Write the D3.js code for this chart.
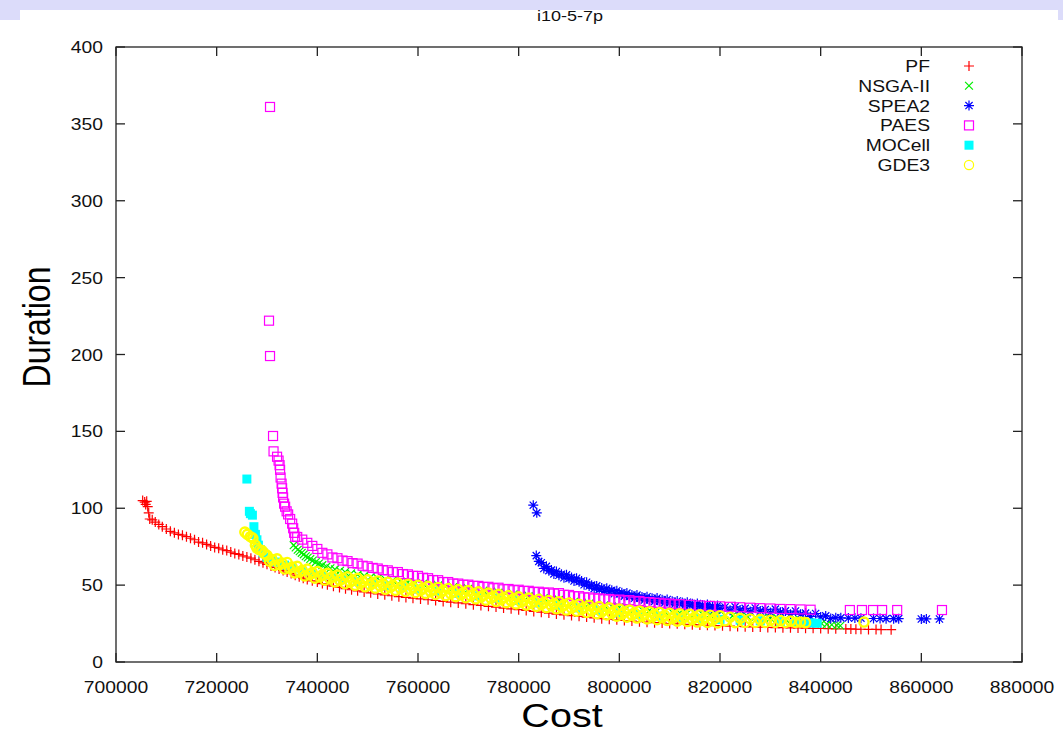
<!DOCTYPE html>
<html>
<head>
<meta charset="utf-8">
<script src="https://cdn.jsdelivr.net/npm/d3@7"></script>
<style>
  body { margin: 0; background: #ffffff; }
  svg { display: block; }
</style>
</head>
<body>
<svg id="chart" width="1063" height="734"></svg>
<script>
// ---- chart text and axis ticks ----
const chartTitle = "i10-5-7p";
const xLabel = "Cost";
const yLabel = "Duration";
const xTickValues = [700000, 720000, 740000, 760000, 780000, 800000, 820000, 840000, 860000, 880000];
const yTickValues = [0, 50, 100, 150, 200, 250, 300, 350, 400];

// ---- series (cost, duration) ----
const seriesNames = ["PF", "NSGA-II", "SPEA2", "PAES", "MOCell", "GDE3"];
const seriesColors = ["#ff0000", "#00ee00", "#0000ff", "#ff00ff", "#00ffff", "#ffff00"];
const seriesMarkers = ["plus", "cross", "star", "square", "filledSquare", "circle"];

const pfPoints = [
  [705300,105],[705700,104],[706100,104.5],[705900,102.5],[706300,101],[706500,97],[706700,93],[707200,92.5],
  [707800,91],[708500,89.5],[709200,88],[710000,86.5],[710800,85],[711600,84],[712400,83],[713200,82.5],
  [714000,81.5],[714800,80.5],[715600,79.5],[716400,78],[717200,77.5],[718000,76.5],[718800,75.5],[719600,74.5],
  [720400,74],[721200,73],[722000,72.5],[722800,71.5],[723600,70.5],[724400,70],[725200,69],[726000,68.3],
  [726800,67.5],[727600,66.5],[728400,65.5],[729200,64.5],[730000,63.5],[730800,62.5],[731600,61.5],[732400,60.5],
  [733200,59.5],[734000,58.5],[734800,57.5],[735600,56.5],[736400,55.5],[737200,54.5],[738000,53.7],[739000,52.8],
  [740000,52],[741000,51],[742000,50.2],[743200,49.3],[744400,48.5],[745600,47.7],[746800,47],[748000,46.3],
  [749300,45.6],[750600,45],[752000,44.3],[753400,43.7],[754800,43.1],[756200,42.5],[757600,42],[759000,41.5],
  [760500,41],[762000,40.5],[763500,40],[765000,39.4],[766500,38.9],[768000,38.4],[769500,37.9],[771000,37.3],
  [772500,36.8],[774000,36.2],[775500,35.7],[777000,35.1],[778500,34.6],[780000,34],[781500,33.5],[783000,32.9],
  [784500,32.4],[786000,31.8],[787500,31.2],[789000,30.7],[790500,30.2],[792000,29.7],[793500,29.2],[795000,28.7],
  [796500,28.2],[798000,27.8],[799500,27.4],[801000,27],[802500,26.6],[804000,26.2],[805500,25.9],[807000,25.6],
  [808500,25.3],[810000,25],[811500,24.8],[813000,24.5],[814500,24.3],[816000,24.1],[817500,23.9],[819000,23.7],
  [820500,23.5],[822000,23.3],[823500,23.1],[825000,23],[826500,22.8],[828000,22.7],[829500,22.5],[831000,22.4],
  [832500,22.3],[834000,22.2],[835500,22.1],[837000,22],[838500,21.9],[840000,21.8],[841500,21.7],[843000,21.6],
  [845000,21.5],[846000,21.5],[847000,21.3],[848000,21.3],[849500,21.2],[851000,21.2],[852000,21.1],[854000,21]
];

const nsgaPoints = [
  [735300,76],[735700,74.5],[736100,73],[736500,72],[736900,71],[737300,70],[737700,68.8],[738100,68],
  [738600,67],[739100,66],[739700,65],[740300,64],[741000,63],[741800,62],[742600,61],[743500,60.2],
  [744500,59.3],[745500,58.5],[746700,57.6],[748000,56.8],[749300,56],[750600,55.2],[752000,54.5],[753500,53.8],
  [755000,53.1],[756500,52.5],[758000,51.9],[759500,51.4],[761000,50.9],[762500,50.3],[764000,49.8],[765500,49.2],
  [767000,48.7],[768500,48.1],[770000,47.6],[771500,47],[773000,46.4],[774500,45.8],[776000,45.2],[777500,44.6],
  [779000,44],[780500,43.4],[782000,42.8],[783500,42.2],[785000,41.6],[786500,41],[788000,40.4],[789500,39.8],
  [791000,39.2],[792500,38.6],[794000,38],[795500,37.4],[797000,36.8],[798500,36.2],[800000,35.6],[801500,35],
  [803000,34.5],[804500,34],[806000,33.6],[807500,33.2],[809000,32.8],[810500,32.4],[812000,32],[813500,31.7],
  [815000,31.4],[816500,31.1],[818000,30.8],[819500,30.5],[821000,30.2],[822500,30],[824000,29.7],[825500,29.4],
  [827000,29.1],[828500,28.8],[830000,28.5],[831500,28.2],[833000,27.9],[834500,27.5],[836000,27],[837500,26.3],
  [839000,25.5],[840200,25],[841200,24.6],[842200,24.2],[843200,23.9],[843900,23.6]
];

const speaPoints = [
  [782900,102],[783600,97],
  [783500,69.2],[784000,65.4],[784500,64.6],[785000,60.8],[785500,62.2],[786000,59.4],[786500,59.8],[787000,57.3],
  [787500,58.9],[788000,56.4],[788500,57.1],[789000,54.8],[789500,56.7],[790000,54.4],[790500,55],[791000,52.7],
  [791500,54.5],[792000,52.2],[792500,52.7],[793000,50.2],[793500,51.9],[794000,49.4],[794500,50],[795000,47.7],
  [795500,49.5],[796000,47.2],[796500,48.1],[797000,45.9],[797500,48],[798000,45.9],[798500,46.7],[799000,44.4],
  [799500,46.4],[800000,44.2],[800500,45],[801000,42.8],[801500,44.8],[802000,42.6],[802500,43.5],[803000,41.4],
  [803500,43.5],[804000,41.4],[804500,42.35],[805000,40.3],[805500,42.45],[806000,40.4],[806500,41.4],[807000,39.4],
  [807500,41.6],[808000,39.6],[808500,40.55],[809000,38.5],[809500,40.65],[810000,38.6],[810500,39.55],[811000,37.55],
  [811500,39.7],[812000,37.7],[812500,38.7],[813000,36.7],[813500,38.9],[814000,36.9],[814500,37.9],[815000,35.9],
  [815500,38.1],[816000,36.1],[816500,37.1],[817000,35.15],[817500,37.4],[818000,35.4],[818500,36.45],[819000,34.5],
  [819500,36.75],[820000,34.8],[821000,35.75],[822000,33.7],[823000,35.9],[824000,33.9],[825000,34.9],[826000,32.9],
  [827000,35.15],[828000,33.2],[829000,34.2],[830000,32.2],[831000,34.4],[832000,32.4],[833000,33.25],[834000,31.1],
  [835000,33.15],[836000,31],[837000,31.8],[838000,29.6],[839000,31.55],[840000,29.3],[841000,30],[842000,28.3],
  [843000,28.8],[844000,28.7],[845500,28.6],[846800,28.6],[848000,28.5],[850500,28.3],[851800,28.3],[853000,28.2],
  [854500,28.2],[855500,28.2],[860000,28],[861000,28],[863600,28]
];

const paesPoints = [
  [730600,361],[730400,222],[730600,199],[731200,147],[731300,137],[732000,133.5],[732300,131],[732500,128],
  [732600,125],[732700,120],[732900,116],[733000,113],[733100,110],[733200,107],[733400,103],[733600,101],
  [733900,98],[734200,96],[734600,93],[735000,90],[735200,87],[735400,84],[735600,81.5],
  [736000,81.3],[737000,79.6],[738000,77.5],[739000,75.5],[740000,73.5],[741000,71],[742000,70],[743000,68],
  [744000,67.5],[745000,66],[746000,65.6],[747000,64.3],[748000,64],[749000,62.6],[750000,62.2],[751000,61.2],
  [752000,60.8],[753000,59.8],[754000,59.6],[755000,58.5],[756000,58.5],[757000,57.2],[758000,57],[759000,56],
  [760000,56],[761000,54.8],[762000,54.5],[763000,53.3],[764000,53.2],[765000,52],[766000,52],[767000,51],
  [768000,51],[769000,50.2],[770000,50.3],[771000,49.5],[772000,49.5],[773000,48.8],[774000,48.9],[775000,48],
  [776000,48.3],[777000,47.3],[778000,47.5],[779000,46.7],[780000,47],[781000,46.2],[782000,46.3],[783000,45.5],
  [784000,45.7],[785000,45],[786000,45.2],[787000,44.5],[788000,44.8],[789000,43.7],[790000,43.6],[791000,42.8],
  [792000,42.8],[793000,42],[794000,42],[795000,41.3],[796000,41.4],[797000,40.8],[798000,41],[799000,40.3],
  [800000,40.6],[801000,40],[802000,40.2],[803000,39.4],[804000,39.7],[805000,38.9],[806000,39],[807000,38.4],
  [808000,38.5],[809000,37.9],[810000,38],[811000,37.5],[812000,37.6],[814000,37.2],[816000,36.8],[818000,36.5],
  [820000,36.2],[822000,35.9],[824000,35.6],[826000,35.3],[828000,35],[830000,34.8],[832000,34.5],[834000,34.4],
  [836000,34.2],[838000,34],[845800,33.8],[848200,33.8],[850400,33.8],[852200,33.8],[855200,33.8],[864100,33.8]
];

const mocellPoints = [
  [726000,119],[726500,98],[726700,96.5],[727100,95.5],[727400,88],[727700,83],[728000,79.5],[728300,76],
  [728700,73],[729200,71],[730000,68],[731000,66.5],[732000,65],[733500,63],[735000,61],[737000,59],
  [739000,57.5],[741000,56],[743000,55],[745000,53.8],[748000,52.3],[751000,50.8],[754000,49.5],[757000,48.4],
  [760000,47.4],[764000,46],[768000,44.6],[772000,43],[776000,41.5],[780000,40],[784000,38.4],[788000,36.8],
  [792000,35.2],[796000,33.6],[800000,32],[804000,30.8],[808000,29.8],[812000,29],[816000,28.3],[820000,27.7],
  [824000,27.2],[828000,26.8],[832000,26.4],[835000,26],[836500,25.6],[838000,25.4],[839300,25.2]
];

const gde3Points = [
  [725600,84.5],[726100,83],[726700,81.5],[727200,80.5],[727700,76],[728000,74],[728500,73],[729000,72.5],[729500,70.5],
  [730000,69.4],[730500,65.6],[731000,66.6],[731500,62.8],[732000,67.1],[732500,63.3],[733000,64.3],[733500,60.5],
  [734000,64.7],[734500,60.8],[735000,61.8],[735500,58],[736000,62.2],[736500,58.5],[737000,59.6],[737500,56],
  [738000,60.4],[738500,56.8],[739000,58.1],[739500,54.5],[740000,58.9],[740500,55.4],[741000,56.7],[741500,53.2],
  [742000,57.7],[742500,54.2],[743000,55.5],[743500,52],[744000,56.5],[744500,53],[745000,54.3],[745500,50.9],
  [746000,55.4],[746500,52],[747000,53.3],[747500,49.9],[748000,54.4],[748500,51],[749000,52.3],[749500,48.9],
  [750000,53.4],[750500,50],[751000,51.4],[751500,48],[752000,52.7],[752500,49.3],[753000,50.7],[753500,47.3],
  [754000,51.9],[754500,48.5],[755000,50],[755500,46.6],[756000,51.3],[756500,47.9],[757000,49.3],[757500,45.9],
  [758000,50.6],[758500,47.2],[759000,48.6],[759500,45.2],[760000,49.9],[760500,46.5],[761000,48],[761500,44.6],
  [762000,49.2],[762500,45.8],[763000,47.3],[763500,43.9],[764000,48.5],[764500,45.1],[765000,46.6],[765500,43.2],
  [766000,47.8],[766500,44.4],[767000,45.9],[767500,42.5],[768000,47.1],[768500,43.7],[769000,45.2],[769500,41.8],
  [770000,46.4],[770500,43],[771000,44.4],[771500,41],[772000,45.6],[772500,42.2],[773000,43.6],[773500,40.2],
  [774000,44.8],[774500,41.4],[775000,42.8],[775500,39.4],[776000,44],[776500,40.6],[777000,42],[777500,38.6],
  [778000,43.2],[778500,39.8],[779000,41.2],[779500,37.8],[780000,42.4],[780500,39],[781000,40.4],[781500,37],
  [782000,41.6],[782500,38.2],[783000,39.6],[783500,36.2],[784000,40.8],[784500,37.4],[785000,38.8],[785500,35.4],
  [786000,40],[786500,36.6],[787000,38],[787500,34.6],[788000,39.2],[788500,35.8],[789000,37.2],[789500,33.8],
  [790000,38.4],[790500,35],[791000,36.4],[791500,33],[792000,37.6],[792500,34.2],[793000,35.6],[793500,32.2],
  [794000,36.8],[794500,33.4],[795000,34.8],[795500,31.4],[796000,36],[796500,32.6],[797000,34],[797500,30.6],
  [798000,35.2],[798500,31.8],[799000,33.2],[799500,29.8],[800000,34.4],[800500,31],[801000,32.5],[801500,29.2],
  [802000,33.8],[802500,30.5],[803000,31.9],[803500,28.6],[804000,33.2],[804500,29.9],[805000,31.3],[805500,28],
  [806000,32.7],[806500,29.4],[807000,30.8],[807500,27.5],[808000,32.2],[808500,28.9],[809000,30.4],[809500,27.1],
  [810000,31.7],[810500,28.4],[811000,29.9],[811500,26.6],[812000,31.3],[812500,28],[813000,29.5],[813500,26.3],
  [814000,31],[814500,27.7],[815000,29.2],[815500,26],[816000,30.7],[816500,27.4],[817000,28.9],[817500,25.7],
  [818000,30.4],[818500,27.1],[819000,28.6],[819500,25.4],[820000,30.1],[821000,26.8],[822000,29.1],[823000,25.6],
  [824000,28.4],[825000,25.7],[826000,28],[827000,25.7],[828000,27.6],[829000,25.7],[830000,27.2],[831000,25.7],
  [832000,26.9],[833000,25.7],[834000,26.6],[835000,25.7],[836000,26],[837000,25.6],[848600,26]
];

const seriesPoints = [pfPoints, nsgaPoints, speaPoints, paesPoints, mocellPoints, gde3Points];

// ---- layout ----
const svg = d3.select("#chart");
const plotLeft = 116, plotRight = 1022, plotTop = 47, plotBottom = 662;
const x = d3.scaleLinear().domain([700000, 880000]).range([plotLeft, plotRight]);
const y = d3.scaleLinear().domain([0, 400]).range([plotBottom, plotTop]);
const font = "'Liberation Sans', Arial, Helvetica, sans-serif";
const textStretch = 1.17;

// page header band
const band = "#dcdcfa";
svg.append("rect").attr("x", 0).attr("y", 0).attr("width", 1063).attr("height", 10).attr("fill", band);
svg.append("rect").attr("x", 0).attr("y", 0).attr("width", 20).attr("height", 20).attr("fill", band);
svg.append("rect").attr("x", 1058).attr("y", 0).attr("width", 5).attr("height", 20).attr("fill", band);

// marker shapes, stroked like gnuplot point types
function markerPath(kind, s) {
  switch (kind) {
    case "plus": return `M${-s},0H${s}M0,${-s}V${s}`;
    case "cross": { const c = s * 0.78; return `M${-c},${-c}L${c},${c}M${-c},${c}L${c},${-c}`; }
    case "star": { const c = s * 0.72; return `M${-s},0H${s}M0,${-s}V${s}M${-c},${-c}L${c},${c}M${-c},${c}L${c},${-c}`; }
    default: return "";
  }
}

// weight: stroke width used for the circle outline
function drawMarker(g, kind, color, cx, cy, weight) {
  if (kind === "square") {
    g.append("rect").attr("x", cx - 4.5).attr("y", cy - 4.5).attr("width", 9).attr("height", 9)
      .attr("fill", "none").attr("stroke", color).attr("stroke-width", 1.2);
  } else if (kind === "filledSquare") {
    g.append("rect").attr("x", cx - 4.5).attr("y", cy - 4.5).attr("width", 9).attr("height", 9)
      .attr("fill", color);
  } else if (kind === "circle") {
    g.append("circle").attr("cx", cx).attr("cy", cy).attr("r", 4.6)
      .attr("fill", "none").attr("stroke", color).attr("stroke-width", weight);
  } else {
    g.append("path").attr("transform", `translate(${cx},${cy})`).attr("d", markerPath(kind, 5))
      .attr("fill", "none").attr("stroke", color).attr("stroke-width", 1.2);
  }
}

// ---- points ----
const pointsLayer = svg.append("g");
seriesPoints.forEach((pts, i) => {
  const g = pointsLayer.append("g").attr("class", "series-" + seriesNames[i]);
  pts.forEach(d => drawMarker(g, seriesMarkers[i], seriesColors[i], x(d[0]), y(d[1]), 2.4));
});

// ---- frame with inward ticks on all four sides ----
const frame = svg.append("g").attr("stroke", "#222").attr("stroke-width", 1.3).attr("fill", "none");
frame.append("rect").attr("x", plotLeft).attr("y", plotTop)
  .attr("width", plotRight - plotLeft).attr("height", plotBottom - plotTop);
const tickLen = 9;
xTickValues.forEach(v => {
  frame.append("line").attr("x1", x(v)).attr("x2", x(v)).attr("y1", plotBottom).attr("y2", plotBottom - tickLen);
  frame.append("line").attr("x1", x(v)).attr("x2", x(v)).attr("y1", plotTop).attr("y2", plotTop + tickLen);
});
yTickValues.forEach(v => {
  frame.append("line").attr("x1", plotLeft).attr("x2", plotLeft + tickLen).attr("y1", y(v)).attr("y2", y(v));
  frame.append("line").attr("x1", plotRight).attr("x2", plotRight - tickLen).attr("y1", y(v)).attr("y2", y(v));
});

// tick labels
const fmt = d3.format("d");
xTickValues.forEach(v => {
  svg.append("text").attr("transform", `translate(${x(v)},692.5) scale(${textStretch},1)`)
    .attr("text-anchor", "middle").attr("font-family", font).attr("font-size", 16.5).attr("fill", "#111")
    .text(fmt(v));
});
yTickValues.forEach(v => {
  svg.append("text").attr("transform", `translate(103,${y(v) + 6}) scale(${textStretch},1)`)
    .attr("text-anchor", "end").attr("font-family", font).attr("font-size", 16.5).attr("fill", "#111")
    .text(fmt(v));
});

// titles
svg.append("text").attr("transform", `translate(570,21) scale(1.2,1)`)
  .attr("text-anchor", "middle").attr("font-family", font).attr("font-size", 15).attr("fill", "#111")
  .text(chartTitle);
svg.append("text").attr("transform", `translate(562,727) scale(1.18,1)`)
  .attr("text-anchor", "middle").attr("font-family", font).attr("font-size", 33.5).attr("fill", "#000")
  .text(xLabel);
svg.append("text").attr("transform", `translate(50,327) rotate(-90) scale(0.82,1)`)
  .attr("text-anchor", "middle").attr("font-family", font).attr("font-size", 39).attr("fill", "#000")
  .text(yLabel);

// ---- legend ----
const legend = svg.append("g");
seriesNames.forEach((name, i) => {
  const ly = 66 + i * 19.8;
  legend.append("text").attr("transform", `translate(930,${ly + 6}) scale(${textStretch},1)`)
    .attr("text-anchor", "end").attr("font-family", font).attr("font-size", 16.5).attr("fill", "#111")
    .text(name);
  drawMarker(legend, seriesMarkers[i], seriesColors[i], 969, ly, 1.2);
});
</script>
</body>
</html>
